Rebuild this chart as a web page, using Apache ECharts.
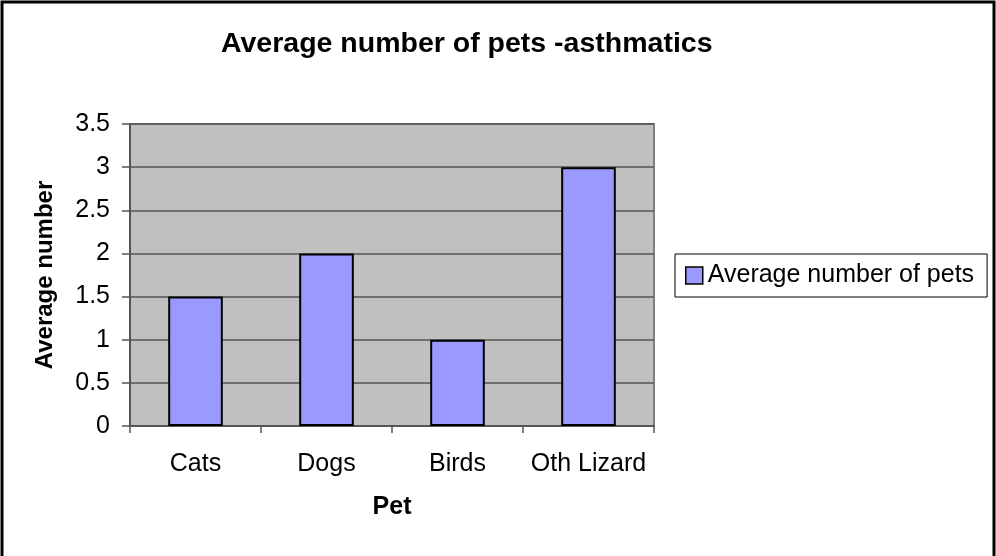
<!DOCTYPE html>
<html>
<head>
<meta charset="utf-8">
<script src="https://cdn.jsdelivr.net/npm/echarts@6/dist/echarts.min.js"></script>
<style>
  html, body { margin: 0; padding: 0; background: #fff; }
  #chart { width: 996px; height: 556px; }
</style>
</head>
<body>
<div id="chart"></div>
<script>
// Pet categories and the average count for asthmatics
const categories = ['Cats', 'Dogs', 'Birds', 'Oth Lizard'];
const averagePets = [1.5, 2, 1, 3];
const seriesName = 'Average number of pets';

const FONT = '"Liberation Sans", Arial, sans-serif';

const chart = echarts.init(document.getElementById('chart'), null, { renderer: 'canvas' });

chart.setOption({
  animation: false,
  backgroundColor: '#ffffff',
  textStyle: { fontFamily: FONT },
  title: {
    text: 'Average number of pets -asthmatics',
    left: 221,
    top: 30,
    padding: 0,
    textStyle: { fontFamily: FONT, fontSize: 28.5, fontWeight: 'bold', color: '#000' }
  },
  legend: {
    orient: 'vertical',
    left: 675,
    top: 254,
    padding: [9, 13, 9, 10],
    borderColor: '#000',
    borderWidth: 1,
    itemWidth: 17,
    itemHeight: 17,
    icon: 'rect',
    textStyle: { fontFamily: FONT, fontSize: 25, color: '#000' },
    data: [{ name: seriesName, itemStyle: { borderColor: '#000', borderWidth: 1.5 } }]
  },
  grid: {
    left: 130,
    top: 124,
    width: 524,
    height: 302,
    show: true,
    backgroundColor: '#c0c0c0',
    borderColor: '#808080',
    borderWidth: 2,
    containLabel: false
  },
  xAxis: {
    type: 'category',
    data: categories,
    name: 'Pet',
    nameLocation: 'middle',
    nameGap: 69,
    nameTextStyle: { fontFamily: FONT, fontSize: 25, fontWeight: 'bold', color: '#000' },
    axisLine: { show: true, lineStyle: { color: '#555', width: 2 } },
    axisTick: { show: true, interval: 0, alignWithLabel: false, length: 7, lineStyle: { color: '#555', width: 1.5 } },
    axisLabel: { interval: 0, hideOverlap: false, fontFamily: FONT, fontSize: 25, color: '#000', margin: 26 },
    splitLine: { show: false }
  },
  yAxis: {
    type: 'value',
    min: 0,
    max: 3.5,
    interval: 0.5,
    name: 'Average number',
    nameLocation: 'middle',
    nameGap: 73,
    nameRotate: 90,
    nameTextStyle: { fontFamily: FONT, fontSize: 24, fontWeight: 'bold', color: '#000' },
    axisLine: { show: true, lineStyle: { color: '#555', width: 2 } },
    axisTick: { show: true, length: 8, lineStyle: { color: '#555', width: 1.5 } },
    axisLabel: { fontFamily: FONT, fontSize: 25, color: '#000', margin: 20 },
    splitLine: { show: true, lineStyle: { color: '#555', width: 1.5 } }
  },
  series: [{
    name: seriesName,
    type: 'bar',
    data: averagePets,
    barWidth: '41.7%',
    itemStyle: { color: '#9999ff', borderColor: '#000', borderWidth: 2 }
  }],
  graphic: [{
    type: 'rect',
    silent: true,
    shape: { x: 2, y: 2, width: 992, height: 570 },
    style: { fill: null, stroke: '#000', lineWidth: 3 }
  }]
});
</script>
</body>
</html>
